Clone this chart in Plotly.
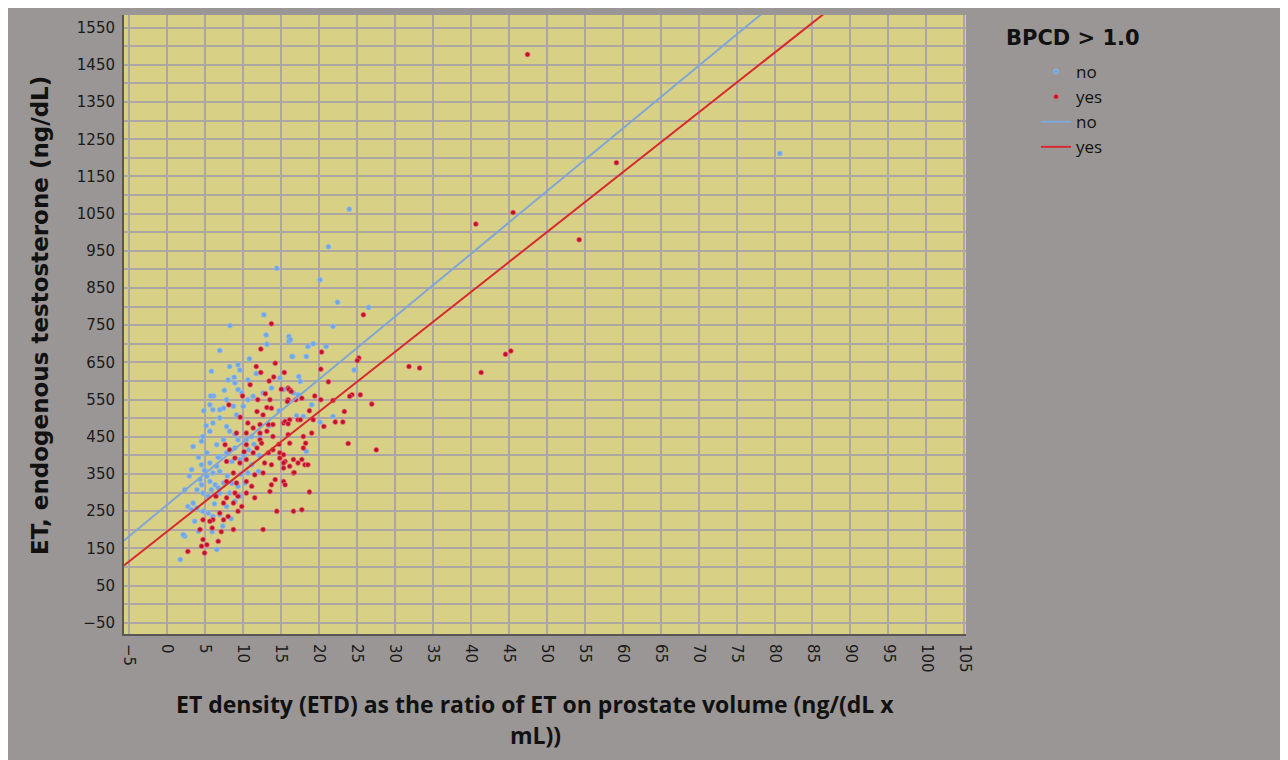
import plotly.graph_objects as go

# ---------------- data ----------------
no_x = [24.05, 21.3, 14.5, 20.2, 22.5, 12.8, 8.35, 13.1, 16.2, 16.1, 7.0, 16.6, 13.2, 5.9, 8.3, 9.4, 9.65, 8.1, 9.0, 10.7,
        9.4, 9.9, 7.9, 5.7, 6.1, 7.0, 7.5, 10.7, 11.4, 8.8, 9.2, 10.1, 7.0, 6.1, 5.7, 4.8, 4.6, 7.9, 8.3, 9.0,
        9.4, 7.5, 3.5, 10.5, 11.2, 12.3, 12.7, 13.8, 14.9, 17.6, 17.3,
        6.6, 5.3, 4.6, 5.7, 3.3, 6.6, 7.0, 6.1, 5.3, 5.7, 4.4, 4.6, 6.4, 6.8, 5.9, 7.5, 4.0, 2.4, 4.8,
        7.0, 8.3, 5.5, 3.5, 3.3, 4.0, 4.8, 5.5, 3.7, 6.1, 7.0, 7.9, 9.0, 9.65, 9.4, 10.3, 10.7, 11.2, 12.1, 2.4,
        1.8, 6.6, 4.2, 2.8, 7.0, 7.9, 8.6, 9.65, 10.3, 9.0,
        21.9, 26.6, 16.1, 16.3, 16.5, 18.6, 19.3, 21.0, 18.4, 24.7, 17.4, 19.1, 17.1, 18.0, 21.9, 20.2, 18.4, 15.4, 16.7,
        80.7,
        2.2, 10.1, 10.8, 11.5, 12.2, 6.2, 8.9, 7.6, 5.2, 4.2, 3.0, 5.0, 6.8, 8.0, 8.6, 9.8, 6.3, 7.4, 6.0, 8.5,
        5.8, 4.9, 13.5, 14.8, 11.8, 10.9]
no_y = [1062, 961, 903, 872, 812, 778, 749, 724, 712, 706, 682, 666, 699, 626, 639, 644, 630, 603, 595, 603,
        577, 568, 550, 536, 523, 523, 527, 550, 559, 532, 509, 532, 501, 487, 465, 451, 438, 478, 465, 456,
        442, 442, 424, 442, 451, 451, 568, 581, 608, 599, 563,
        429, 407, 375, 380, 362, 371, 357, 353, 344, 330, 335, 321, 321, 313, 308, 326, 308, 308, 299,
        299, 299, 290, 272, 254, 259, 250, 245, 223, 236, 241, 263, 277, 290, 317, 326, 353, 375, 357, 183,
        120, 147, 196, 263, 397, 407, 384, 389, 402, 420,
        747, 798, 720, 711, 666, 693, 700, 693, 666, 630, 612, 536, 507, 505, 505, 489, 411, 577, 568,
        1212,
        187, 402, 415, 430, 400, 560, 610, 575, 480, 395, 345, 360, 395, 345, 325, 350, 270, 210, 195, 230,
        560, 520, 480, 520, 620, 660]

yes_x = [47.5, 59.2, 40.7, 45.6, 54.3, 31.9, 33.3, 41.4, 44.6, 45.3,
         13.8, 12.4, 14.3, 11.8, 12.4, 15.5, 14.1, 15.1, 16.0, 16.3, 13.0, 12.0, 13.6, 8.2, 13.2, 13.8, 16.0, 17.0,
         11.9, 12.7, 9.7, 10.7, 12.3, 13.4, 14.0, 11.4, 15.4, 16.2, 17.3, 10.5, 12.3, 13.2, 9.2, 14.0, 16.0, 12.3, 10.5,
         7.7, 8.3, 9.0, 9.65, 7.9, 10.5, 11.4, 11.9, 12.5, 13.4, 14.0, 14.9, 15.6, 16.7, 16.2, 15.4, 11.6, 10.5, 11.2,
         8.8, 7.9, 9.2, 9.0, 9.4, 7.9, 7.5, 8.8, 9.4, 7.0, 6.1, 5.7, 4.8, 4.4, 7.5, 8.1, 4.8, 5.3, 4.6, 5.0, 2.8,
         6.8, 8.8, 12.7, 13.6, 16.7, 15.4, 15.6, 14.3, 13.8, 16.7, 12.7, 13.8, 10.5, 11.6, 9.9, 14.9,
         25.9, 25.3, 25.1, 20.4, 20.3, 21.3, 21.9, 20.3, 24.4, 24.1, 25.5, 27.0, 23.4, 22.2, 23.2, 20.7, 23.9, 27.6,
         16.1, 16.4, 15.9, 17.8, 19.3, 17.6, 15.6, 16.0, 19.1, 16.2, 18.0, 18.3, 18.0, 17.8, 17.3, 18.2, 18.6, 16.8,
         15.4, 15.4,
         17.8, 14.5, 6.0, 7.2, 6.5, 10.0, 11.0, 13.5, 19.5, 18.8, 14.8, 12.9, 10.2, 18.8]
yes_y = [1478, 1187, 1022, 1053, 980, 639, 635, 623, 672, 681,
         754, 686, 648, 639, 623, 623, 611, 578, 581, 575, 566, 550, 550, 536, 529, 527, 550, 550,
         518, 509, 503, 487, 483, 483, 483, 474, 487, 496, 496, 460, 460, 465, 460, 451, 456, 442, 429,
         429, 415, 393, 380, 384, 389, 407, 420, 433, 407, 415, 393, 384, 389, 371, 366, 348, 330, 317,
         353, 330, 326, 299, 290, 286, 272, 272, 250, 245, 227, 223, 227, 201, 227, 236, 174, 160, 156, 138, 142,
         169, 201, 201, 303, 250, 330, 321, 335, 375, 353, 353, 321, 299, 286, 263, 407,
         778, 662, 655, 678, 632, 598, 548, 550, 563, 559, 563, 538, 518, 490, 490, 478, 432, 415,
         578, 572, 545, 554, 496, 496, 491, 485, 460, 433, 451, 433, 420, 389, 380, 375, 375, 354,
         402, 380,
         254, 250, 205, 195, 290, 560, 590, 600, 560, 520, 430, 380, 410, 302]

# fitted regression lines (intercept, slope)
fit_no = [266.0, 16.87]
fit_yes = [194.5, 16.10]
line_x = [-5.6, 105.2]

x_range = [-5.6, 105.2]
y_range = [-80, 1584]

x_title_lines = ["ET density (ETD) as the ratio of ET on prostate volume (ng/(dL x", "mL))"]
y_title = "ET, endogenous testosterone (ng/dL)"
legend_title = "BPCD &gt; 1.0"

# ---------------- figure ----------------
fig = go.Figure()

fig.add_trace(go.Scatter(
    x=no_x, y=no_y, mode="markers", name="no",
    marker=dict(color="#6ea6e6", size=5, line=dict(color="rgba(150,190,235,0.7)", width=1)),
))
fig.add_trace(go.Scatter(
    x=yes_x, y=yes_y, mode="markers", name="yes",
    marker=dict(color="#c0102a", size=5, line=dict(color="rgba(240,120,130,0.7)", width=1)),
))
fig.add_trace(go.Scatter(
    x=line_x, y=[fit_no[0] + fit_no[1] * v for v in line_x], mode="lines", name="no",
    line=dict(color="#7fa6d6", width=2),
))
fig.add_trace(go.Scatter(
    x=line_x, y=[fit_yes[0] + fit_yes[1] * v for v in line_x], mode="lines", name="yes",
    line=dict(color="#d62a2e", width=2),
))

# page has an 8px body margin, so the figure is 8px smaller and offset
OFF = 8
W, H = 1288 - OFF, 760 - OFF
L, T = 124 - OFF, 15 - OFF
R = W - (966 - OFF)
B = H - (634 - OFF)
pw, ph = W - L - R, H - T - B

def px_to_paper_x(px):  # page pixel -> paper
    return (px - OFF - L) / pw

def px_to_paper_y(py):
    return (H - B - (py - OFF)) / ph

grid = "#ada6a3"
tick_font = dict(family="DejaVu Sans", size=15, color="#1a1a1a")
title_color = "#111111"

annotations = [
    dict(text="<b>" + legend_title + "</b>", xref="paper", yref="paper",
         x=px_to_paper_x(1004), y=px_to_paper_y(38), xanchor="left", yanchor="middle",
         showarrow=False, font=dict(family="DejaVu Sans", size=21, color=title_color)),
    dict(text="<b>" + x_title_lines[0] + "</b>", xref="paper", yref="paper",
         x=px_to_paper_x(535), y=px_to_paper_y(704), xanchor="center", yanchor="middle",
         showarrow=False, font=dict(family="Open Sans", size=23, color=title_color)),
    dict(text="<b>" + x_title_lines[1] + "</b>", xref="paper", yref="paper",
         x=px_to_paper_x(535), y=px_to_paper_y(735), xanchor="center", yanchor="middle",
         showarrow=False, font=dict(family="Open Sans", size=23, color=title_color)),
    dict(text="<b>" + y_title + "</b>", xref="paper", yref="paper", textangle=-90,
         x=px_to_paper_x(40), y=px_to_paper_y(316), xanchor="center", yanchor="middle",
         showarrow=False, font=dict(family="DejaVu Sans", size=23, color=title_color)),
]

fig.update_layout(
    width=W, height=H,
    margin=dict(l=L, r=R, t=T, b=B),
    paper_bgcolor="#9a9695",
    plot_bgcolor="#d8d084",
    showlegend=True,
    legend=dict(
        x=px_to_paper_x(1036), y=px_to_paper_y(54), xanchor="left", yanchor="top",
        bgcolor="rgba(0,0,0,0)", font=dict(family="Open Sans", size=17, color=title_color),
        tracegroupgap=0, itemwidth=30,
    ),
    xaxis=dict(
        range=x_range, tick0=-5, dtick=5, tickangle=90,
        showgrid=True, gridcolor=grid, gridwidth=1.5,
        zeroline=False, showline=True, linecolor="#5a5654", linewidth=2,
        ticks="", tickfont=tick_font, ticklabelstandoff=5,
    ),
    yaxis=dict(
        range=y_range, tick0=-50, dtick=100,
        showgrid=True, gridcolor=grid, gridwidth=1.5,
        minor=dict(dtick=50, tick0=0, showgrid=True, gridcolor=grid, gridwidth=1.5),
        zeroline=False, showline=True, linecolor="#5a5654", linewidth=2,
        ticks="", tickfont=tick_font, ticklabelstandoff=4,
    ),
    annotations=annotations,
)

fig.write_html("out.html")
